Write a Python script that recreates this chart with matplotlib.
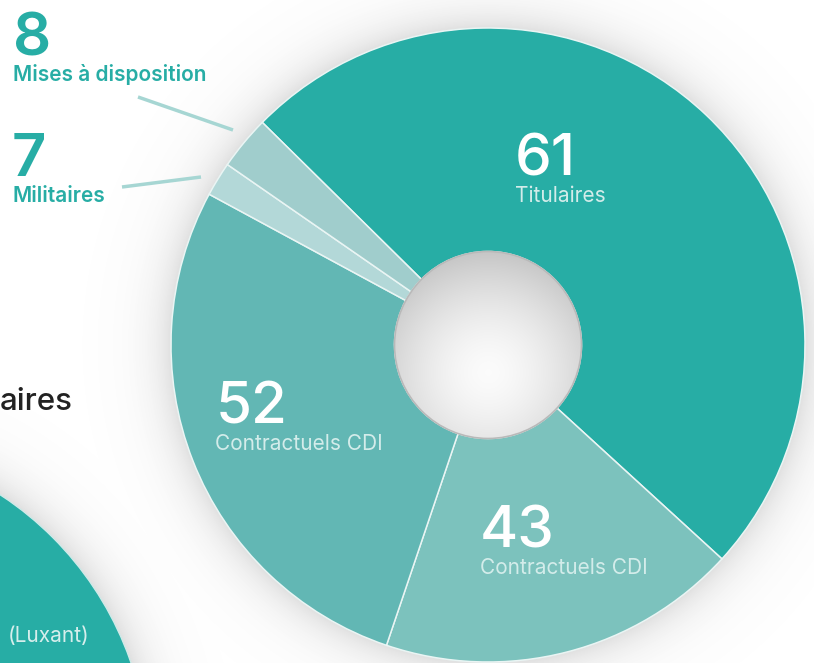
import matplotlib
matplotlib.use("Agg")
import matplotlib.pyplot as plt
import numpy as np
from matplotlib.patches import Circle

plt.rcParams['font.family'] = ['Inter', 'DejaVu Sans']

# valeurs affichées et part de l'anneau (en %)
categories = ['Titulaires', 'Contractuels CDI', 'Contractuels CDI', 'Militaires', 'Mises à disposition']
counts = [61, 43, 52, 7, 8]
shares = [49.4, 18.4, 27.7, 1.75, 2.75]
colors = ['#27ADA5', '#7CC2BD', '#62B7B4', '#B3D8D8', '#A0CDCC']

W, H = 814, 663
cx, cy = 488, H - 345
r_out, r_in = 317, 93.5

fig = plt.figure(figsize=(W / 100, H / 100), dpi=100)
ax = fig.add_axes([0, 0, 1, 1])

# ombre douce autour des cercles
xx, yy = np.meshgrid(np.arange(W) + 0.5, np.arange(H) + 0.5)
d1 = np.hypot(xx - cx, yy - cy) - r_out
bx, by, br = -180, H - 770, 329
d2 = np.hypot(xx - bx, yy - by) - br
a = np.maximum(np.where(d1 > 0, 0.22 * np.exp(-d1 / 22), 0),
               np.where(d2 > 0, 0.22 * np.exp(-d2 / 22), 0))
shadow = np.zeros((H, W, 4))
shadow[..., :3] = 0.45
shadow[..., 3] = a
ax.imshow(shadow, extent=[0, W, 0, H], origin='lower', zorder=0, interpolation='bilinear')

# grand cercle en bas à gauche
ax.add_patch(Circle((bx, by), br, facecolor='#27ADA5', edgecolor='#CFEAE8', lw=1, zorder=1))
ax.text(8, H - 642, '(Luxant)', color='#D6EEEC', fontsize=15, va='baseline', ha='left', zorder=5)

# anneau
wedges, _ = ax.pie(shares, colors=colors, radius=r_out, center=(cx, cy),
                   startangle=135.4, counterclock=False,
                   wedgeprops=dict(width=r_out - r_in, edgecolor='#EAF5F4', linewidth=1.1))
for w in wedges:
    w.set_zorder(2)

# trou central avec dégradé gris
g = np.linspace(-1, 1, 200)
gx, gy = np.meshgrid(g, g)
v = np.clip(np.hypot(gx, gy + 0.3) / 1.3, 0, 1)
shade = 0.985 - 0.21 * v ** 1.6
img = np.dstack([shade, shade, shade])
hole = Circle((cx, cy), r_in, facecolor='none', edgecolor='#B9B9B9', lw=1.2, zorder=4)
im = ax.imshow(img, extent=[cx - r_in, cx + r_in, cy - r_in, cy + r_in],
               origin='lower', zorder=3, interpolation='bilinear')
im.set_clip_path(Circle((cx, cy), r_in, transform=ax.transData))
ax.add_patch(hole)

# étiquettes dans l'anneau (x, ligne de base du nombre, x, ligne de base du libellé)
inner = [(515, 175, 515, 202), (480, 547, 480, 574), (216, 424, 215, 450)]
for (nx, ny, lx, ly), n, lab in zip(inner, counts[:3], categories[:3]):
    ax.text(nx, H - ny, str(n), color='white', fontsize=42, fontweight='medium',
            ha='left', va='baseline', zorder=5)
    ax.text(lx, H - ly, lab, color='#D3ECEA', fontsize=15, ha='left', va='baseline', zorder=5)

# petites parts à gauche
outer = [(12, 176, 202, (122, 187), (201, 177)), (13, 55, 81, (138, 97), (233, 130))]
for (x0, ny, ly, p1, p2), n, lab in zip(outer, counts[3:], categories[3:]):
    ax.text(x0, H - ny, str(n), color='#27ADA5', fontsize=43, fontweight='semibold',
            ha='left', va='baseline', zorder=5)
    ax.text(x0, H - ly, lab, color='#27ADA5', fontsize=15, fontweight='semibold',
            ha='left', va='baseline', zorder=5)
    ax.plot([p1[0], p2[0]], [H - p1[1], H - p2[1]], color='#A6D6D3', lw=2.5,
            solid_capstyle='butt', zorder=5)

ax.text(0, H - 410, 'aires', color='#222222', fontsize=22.5, fontweight='medium',
        ha='left', va='baseline', zorder=5)

ax.set_xlim(0, W)
ax.set_ylim(0, H)
ax.set_aspect('equal')
ax.axis('off')
fig.savefig('out.png', dpi=100, facecolor='white')
